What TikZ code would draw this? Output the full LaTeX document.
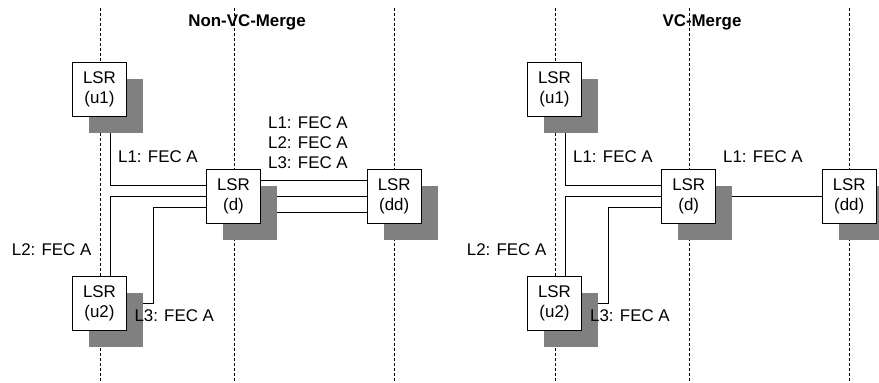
\documentclass[tikz,border=0pt]{standalone}
\usepackage{fontspec}
\setmainfont{Liberation Sans}
\usetikzlibrary{shadows}
\definecolor{shade}{RGB}{128,128,128}
\pgfdeclarelayer{back}
\pgfsetlayers{back,main}

\begin{document}
\begin{tikzpicture}[
  x=1pt, y=-1pt,
  font=\fontsize{16.9}{20}\selectfont,
  lsr/.style={draw, line width=1pt, fill=white, minimum size=53.6pt, inner sep=0pt, align=center,
    copy shadow={shadow xshift=16.5pt, shadow yshift=-16.5pt, fill=shade, draw=none}},
  link/.style={line width=1pt},
  guide/.style={line width=1pt, dash pattern=on 3pt off 2pt},
  note/.style={anchor=west, inner sep=0pt, align=left},
  heading/.style={font=\fontsize{16.9}{20}\selectfont\bfseries}
]
\useasboundingbox (0,0) rectangle (879,383);

% Non-VC-Merge
\node[heading] (t1) at (247,22.7) {Non-VC-Merge};
\node[lsr] (u1) at (99.5,89.3) {LSR\\(u1)};
\node[lsr] (d) at (233.5,196.7) {LSR\\(d)};
\node[lsr] (dd) at (394.2,196.7) {LSR\\(dd)};
\node[lsr] (u2) at (99.5,303.7) {LSR\\(u2)};
\node[note] (l1) at (118,156.7) {L1: FEC A};
\node[note] (l123) at (268,142.7) {L1: FEC A\\L2: FEC A\\L3: FEC A};
\node[note] (l2) at (11.7,250) {L2: FEC A};
\node[note] (l3) at (134.3,316) {L3: FEC A};

% VC-Merge
\node[heading] (t2) at (702,22.7) {VC-Merge};
\node[lsr] (mu1) at (554.5,89.3) {LSR\\(u1)};
\node[lsr] (md) at (688.7,196.7) {LSR\\(d)};
\node[lsr] (mdd) at (849.2,196.7) {LSR\\(dd)};
\node[lsr] (mu2) at (554.5,303.7) {LSR\\(u2)};
\node[note] (ml1) at (573,156.7) {L1: FEC A};
\node[note] (ml1b) at (723,156.7) {L1: FEC A};
\node[note] (ml2) at (466.7,250) {L2: FEC A};
\node[note] (ml3) at (590,316) {L3: FEC A};

\begin{pgfonlayer}{back}
\foreach \x in {100,234,394,555,689,849}
  \draw[guide] (\x,8) -- (\x,383);
% label switched paths
\draw[link] ([xshift=11pt]u1.south) |- ([yshift=11pt]d.west);
\draw[link] ([xshift=11pt]u2.north) |- (d.west);
\draw[link] (u2.east) -- ++(27,0) |- ([yshift=-11pt]d.west);
\foreach \s in {16,0,-16}
  \draw[link] ([yshift=\s pt]d.east) -- ([yshift=\s pt]dd.west);
\draw[link] ([xshift=11pt]mu1.south) |- ([yshift=11pt]md.west);
\draw[link] ([xshift=11pt]mu2.north) |- (md.west);
\draw[link] (mu2.east) -- ++(27,0) |- ([yshift=-11pt]md.west);
\draw[link] (md.east) -- (mdd.west);
\end{pgfonlayer}
\end{tikzpicture}
\end{document}
